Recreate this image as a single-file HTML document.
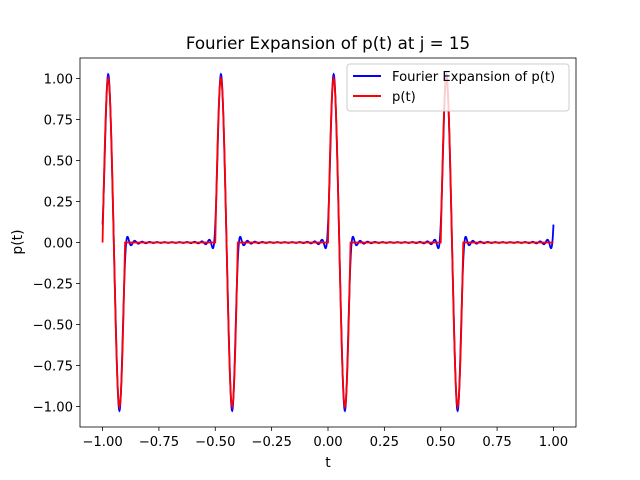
<!DOCTYPE html>
<html><head><meta charset="utf-8"><style>
body{margin:0;background:#fff}
svg{display:block;font-family:"DejaVu Sans","Liberation Sans",sans-serif}
</style></head><body>
<svg id="chart" width="640" height="480">
<rect width="640" height="480" fill="#fff"/>
<text x="328" y="49" font-size="16.7" text-anchor="middle">Fourier Expansion of p(t) at j = 15</text>
<g id="ticks"></g>
<g id="lines"></g>
<rect x="80" y="58" width="496" height="369" fill="none" stroke="#000" stroke-width="0.8"/>
<text x="328" y="467" font-size="13.9" text-anchor="middle">t</text>
<text x="22" y="242" font-size="13.9" text-anchor="middle" transform="rotate(-90 22 242)">p(t)</text>
<g>
<rect x="347" y="64" width="222" height="47" rx="3" fill="#fff" fill-opacity="0.8" stroke="#ccc"/>
<line x1="353" y1="76" x2="381" y2="76" stroke="blue" stroke-width="2"/>
<text x="392" y="81" font-size="13.2">Fourier Expansion of p(t)</text>
<line x1="353" y1="96" x2="381" y2="96" stroke="red" stroke-width="2"/>
<text x="392" y="101" font-size="13.2">p(t)</text>
</g>
</svg>
<script>
const xTicks=[-1,-0.75,-0.5,-0.25,0,0.25,0.5,0.75,1];
const yTicks=[-1,-0.75,-0.5,-0.25,0,0.25,0.5,0.75,1];
const period=0.5;
const pulseWidth=0.1;
// one pulse shape sampled every 0.0025 over [0,0.1]
const pulse=[0,0.156,0.309,0.454,0.588,0.707,0.809,0.891,0.951,0.988,1,0.988,0.951,0.891,0.809,0.707,0.588,0.454,0.309,0.156,0,-0.156,-0.309,-0.454,-0.588,-0.707,-0.809,-0.891,-0.951,-0.988,-1,-0.988,-0.951,-0.891,-0.809,-0.707,-0.588,-0.454,-0.309,-0.156,0];
const harmonics=15;
const NS="http://www.w3.org/2000/svg";
const X0=80,X1=576,Y0=58,Y1=427,xmin=-1.1,xmax=1.1,ymin=-1.125,ymax=1.125;
const sx=v=>X0+(v-xmin)/(xmax-xmin)*(X1-X0);
const sy=v=>Y1-(v-ymin)/(ymax-ymin)*(Y1-Y0);
const tk=document.getElementById('ticks'),ln=document.getElementById('lines');
function mk(tag,a,p){const e=document.createElementNS(NS,tag);for(const k in a)e.setAttribute(k,a[k]);p.appendChild(e);return e;}
xTicks.forEach(v=>{const x=sx(v);
 const l=mk('line',{x1:x,x2:x,y1:Y1,y2:Y1+4,stroke:'#000','stroke-width':0.8},tk);
 
 
 const t=mk('text',{x:x,y:Y1+19,'font-size':13.2,'text-anchor':'middle'},tk);t.textContent=v.toFixed(2).replace('-','−');
 
 });
yTicks.forEach(v=>{const y=sy(v);
 const l=mk('line',{x1:X0-4,x2:X0,y1:y,y2:y,stroke:'#000','stroke-width':0.8},tk);
 
 
 const t=mk('text',{x:X0-7,y:y+5,'font-size':13.2,'text-anchor':'end'},tk);t.textContent=v.toFixed(2).replace('-','−');
 
 });
function p(t){let u=((t%period)+period)%period;if(u>pulseWidth)return 0;
 const f=u/pulseWidth*(pulse.length-1);const i=Math.min(Math.floor(f),pulse.length-2);return pulse[i]+(pulse[i+1]-pulse[i])*(f-i);}
const M=4000,a=[],b=[];
for(let k=0;k<=harmonics;k++){let sa=0,sb=0;for(let i=0;i<M;i++){const t=(i+0.5)/M*period,v=p(t),w=2*Math.PI*k*t/period;sa+=v*Math.cos(w);sb+=v*Math.sin(w);}
 a.push(2*sa/M);b.push(2*sb/M);}
function F(t){let s=a[0]/2;for(let k=1;k<=harmonics;k++){const w=2*Math.PI*k*t/period;s+=a[k]*Math.cos(w)+b[k]*Math.sin(w);}return s;}
const N=2000;let pb='',pr='';
for(let i=0;i<=N;i++){const t=-1+2*i/N;pb+=(i?'L':'M')+sx(t).toFixed(2)+','+sy(F(t)).toFixed(2);pr+=(i?'L':'M')+sx(t).toFixed(2)+','+sy(p(t)).toFixed(2);}
const lb=mk('path',{d:pb,fill:'none',stroke:'blue','stroke-width':1.8},ln);


const lr=mk('path',{d:pr,fill:'none',stroke:'red','stroke-width':1.8},ln);


</script>
</body></html>
